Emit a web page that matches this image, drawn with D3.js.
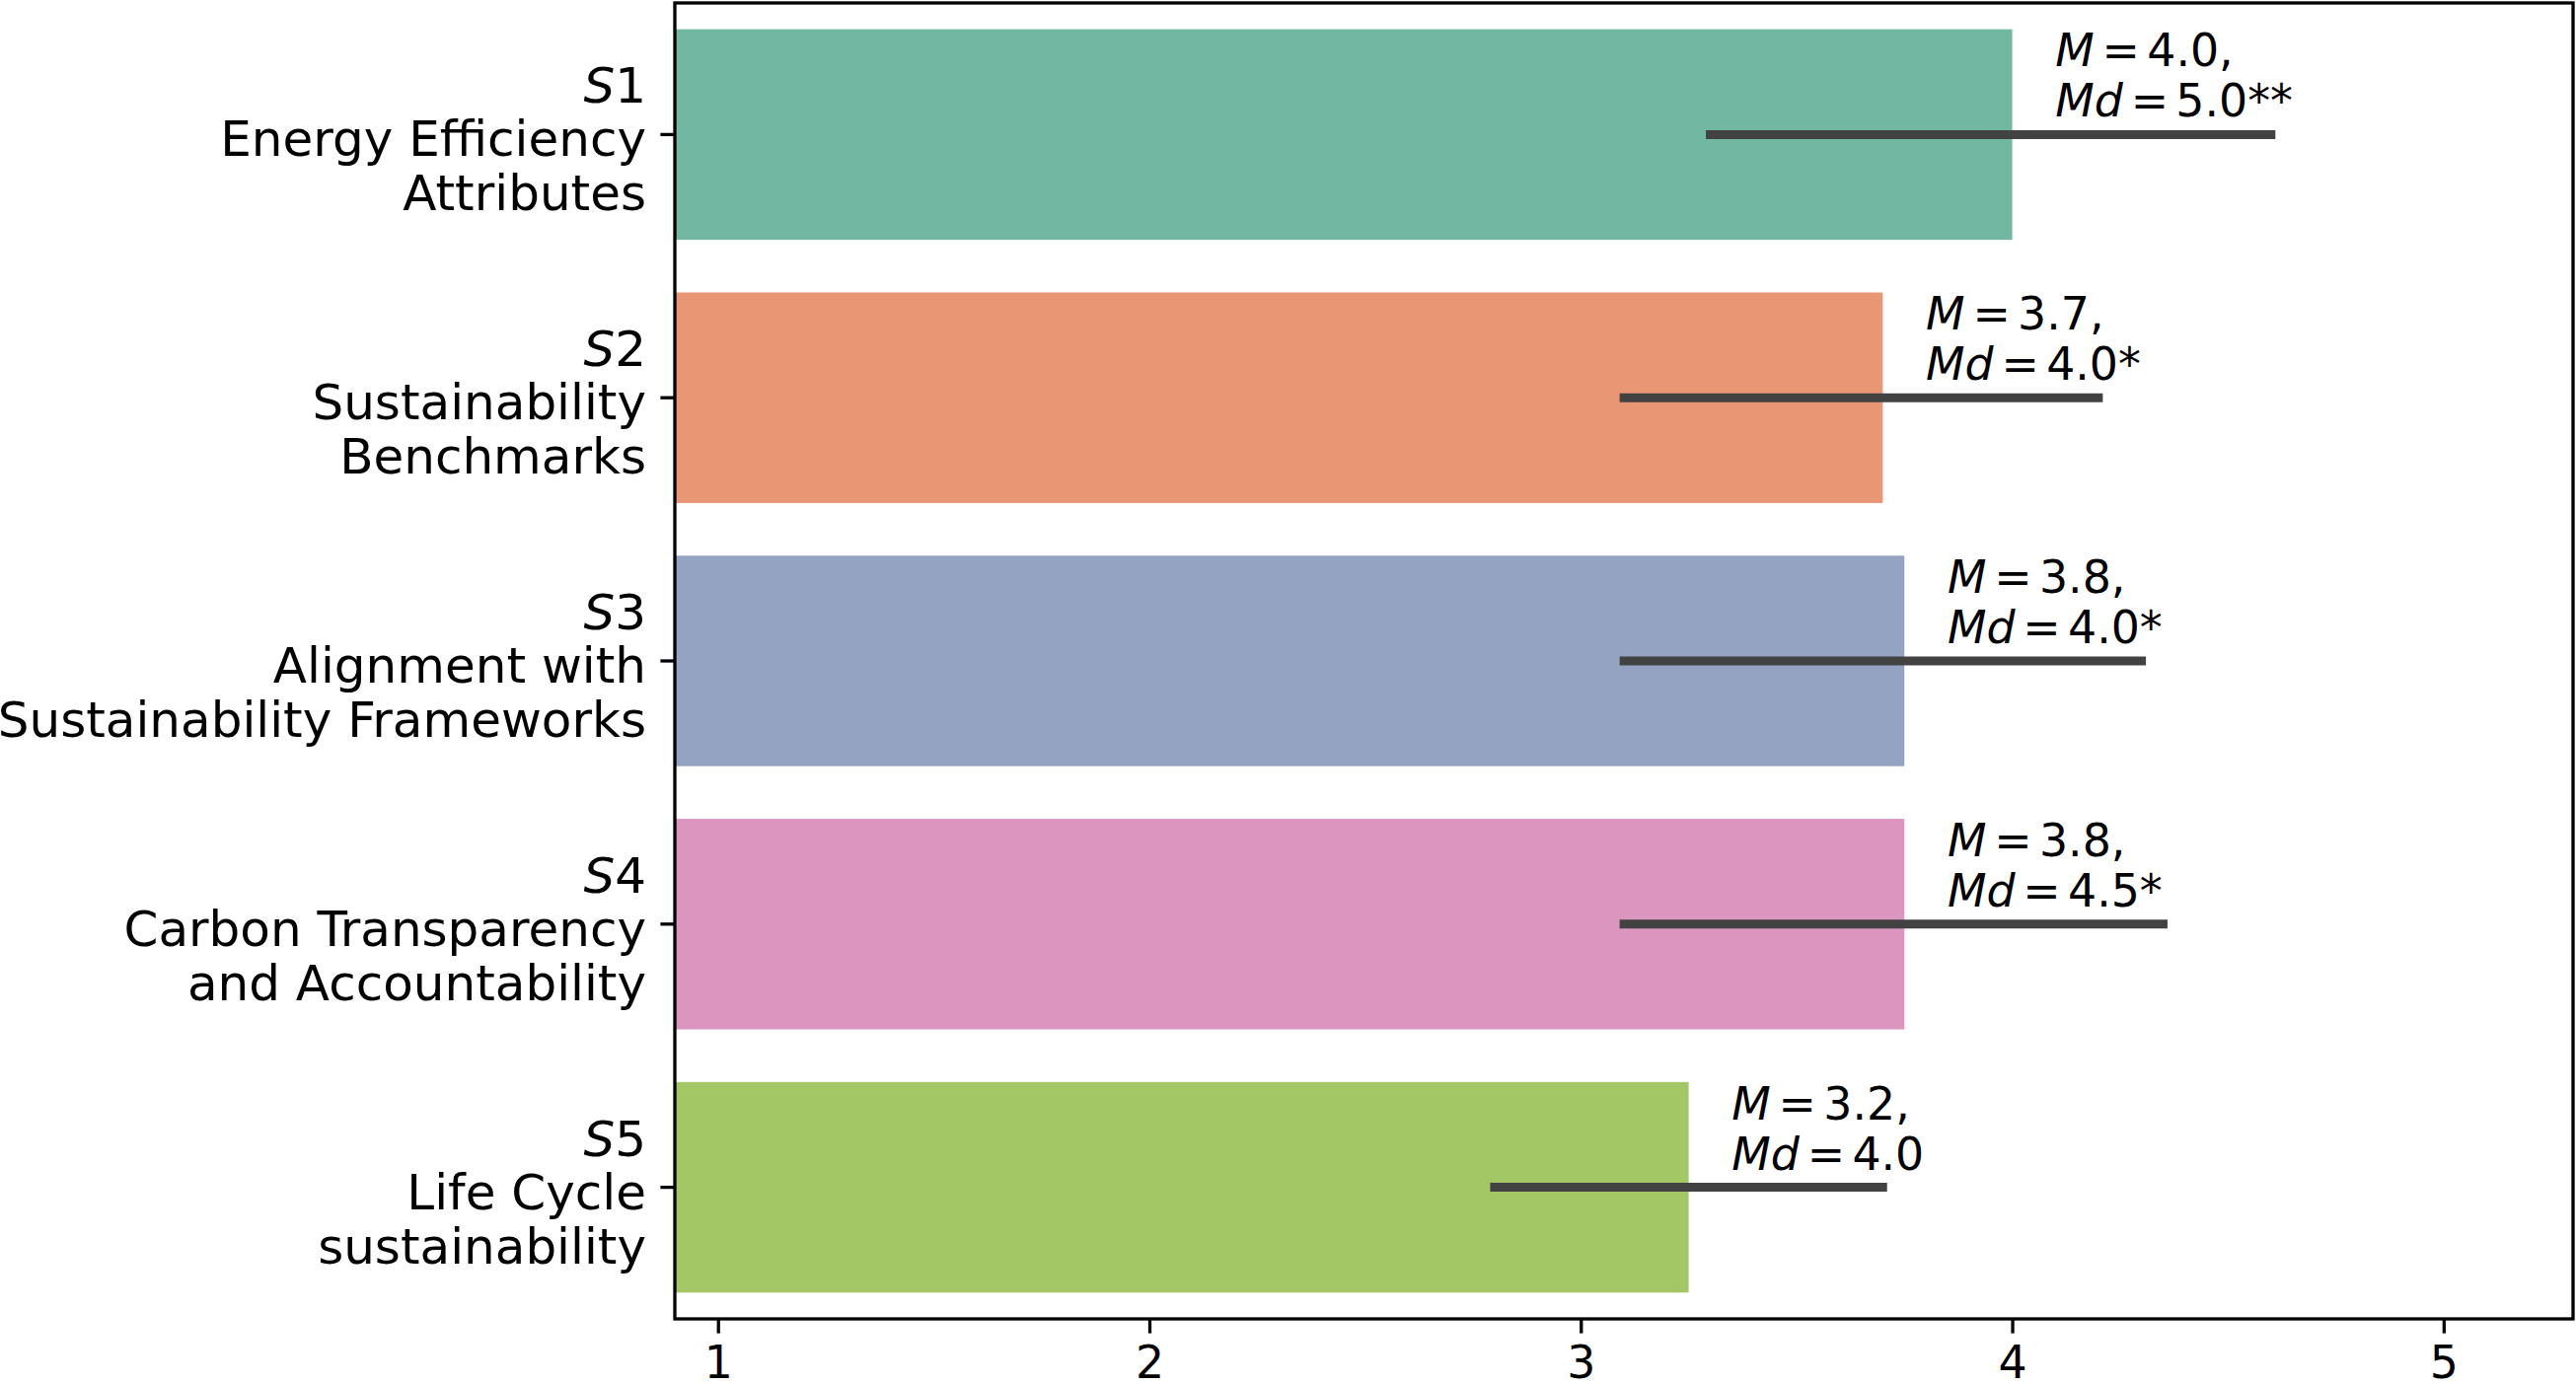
<!DOCTYPE html>
<html>
<head>
<meta charset="utf-8">
<script src="https://cdn.jsdelivr.net/npm/d3@7"></script>
<style>
  html, body { margin: 0; padding: 0; background: #fff; }
  svg { display: block; font-family: "DejaVu Sans", sans-serif; }
</style>
</head>
<body>
<div id="chart"></div>
<script>
// Survey statement ratings: means with CI lines and annotations
const codes = ["S1", "S2", "S3", "S4", "S5"];
const names = [
  ["Energy Efficiency", "Attributes"],
  ["Sustainability", "Benchmarks"],
  ["Alignment with", "Sustainability Frameworks"],
  ["Carbon Transparency", "and Accountability"],
  ["Life Cycle", "sustainability"]
];
const means = [4.0, 3.7, 3.75, 3.75, 3.25];
const ciLow = [3.29, 3.09, 3.09, 3.09, 2.79];
const ciHigh = [4.61, 4.21, 4.31, 4.36, 3.71];
const meanLabels = ["4.0", "3.7", "3.8", "3.8", "3.2"];
const medianLabels = ["5.0", "4.0", "4.0", "4.5", "4.0"];
const sigMarks = ["**", "*", "*", "*", ""];
const xTicks = [1, 2, 3, 4, 5];
const colors = ["#71b7a1", "#e99675", "#95a3c3", "#db96c0", "#a2c764"];

const width = 2611, height = 1403;
const margin = { top: 3, right: 3, bottom: 66, left: 684 };

const svg = d3.select("#chart").append("svg")
  .attr("width", width)
  .attr("height", height);

const x = d3.scaleLinear()
  .domain([0.9, 5.3])
  .range([margin.left, width - margin.right]);

const y = d3.scaleBand()
  .domain(codes)
  .range([margin.top, height - margin.bottom])
  .paddingInner(0.2)
  .paddingOuter(0.1);

const rows = codes.map((c, i) => ({
  code: c, name: names[i], mean: means[i], lo: ciLow[i], hi: ciHigh[i],
  mLabel: meanLabels[i], mdLabel: medianLabels[i], sig: sigMarks[i], color: colors[i]
}));

// bars
svg.append("g").selectAll("rect")
  .data(rows)
  .join("rect")
  .attr("x", x(0.9))
  .attr("y", d => y(d.code))
  .attr("width", d => x(d.mean) - x(0.9))
  .attr("height", y.bandwidth())
  .attr("fill", d => d.color);

// CI lines
svg.append("g").selectAll("line")
  .data(rows)
  .join("line")
  .attr("x1", d => x(d.lo))
  .attr("x2", d => x(d.hi))
  .attr("y1", d => y(d.code) + y.bandwidth() / 2)
  .attr("y2", d => y(d.code) + y.bandwidth() / 2)
  .attr("stroke", "#424242")
  .attr("stroke-width", 9);

// annotations (math-style: italic symbol, tight spacing around "=")
const ann = svg.append("g").selectAll("g")
  .data(rows)
  .join("g")
  .attr("transform", d => `translate(${x(d.mean + 0.1)},${y(d.code) + y.bandwidth() / 2})`)
  .attr("font-size", "45.8px")
  .attr("fill", "#000");

const l1 = ann.append("text").attr("y", -69);
l1.append("tspan").attr("font-style", "italic").text("M");
l1.append("tspan").attr("dx", "0.17em").text("=");
l1.append("tspan").attr("dx", "0.16em").text(d => d.mLabel + ",");

const l2 = ann.append("text").attr("y", -18);
l2.append("tspan").attr("font-style", "italic").text("Md");
l2.append("tspan").attr("dx", "0.17em").text("=");
l2.append("tspan").attr("dx", "0.16em").text(d => d.mdLabel + d.sig);

// x axis
const xAxis = svg.append("g")
  .attr("transform", `translate(0,${height - margin.bottom})`)
  .call(d3.axisBottom(x).tickValues(xTicks).tickFormat(d3.format("d"))
    .tickSize(14.6).tickPadding(13));
xAxis.select(".domain").remove();
xAxis.selectAll(".tick line").attr("stroke", "#000").attr("stroke-width", 3.3);
xAxis.selectAll(".tick text")
  .attr("font-size", "45.8px")
  .attr("font-family", "DejaVu Sans, sans-serif")
  .attr("fill", "#000");

// y axis
const yAxis = svg.append("g")
  .attr("transform", `translate(${margin.left},0)`)
  .call(d3.axisLeft(y).tickSize(14.6).tickPadding(14.6));
yAxis.select(".domain").remove();
yAxis.selectAll(".tick line").attr("stroke", "#000").attr("stroke-width", 3.3);
yAxis.selectAll(".tick text").remove();

const yl = yAxis.selectAll(".tick")
  .append("text")
  .attr("x", -29)
  .attr("text-anchor", "end")
  .attr("font-size", "50px")
  .attr("font-family", "DejaVu Sans, sans-serif")
  .attr("fill", "#000");

yl.each(function (code, i) {
  const t = d3.select(this);
  const first = t.append("tspan").attr("x", -29).attr("y", -32);
  first.append("tspan").attr("font-style", "italic").text(code.slice(0, 1));
  first.append("tspan").text(code.slice(1));
  names[i].forEach((line, j) => {
    t.append("tspan").attr("x", -29).attr("y", 22 + j * 55).text(line);
  });
});

// frame
svg.append("rect")
  .attr("x", margin.left)
  .attr("y", margin.top)
  .attr("width", width - margin.right - margin.left)
  .attr("height", height - margin.bottom - margin.top)
  .attr("fill", "none")
  .attr("stroke", "#000")
  .attr("stroke-width", 3.3);
</script>
</body>
</html>
